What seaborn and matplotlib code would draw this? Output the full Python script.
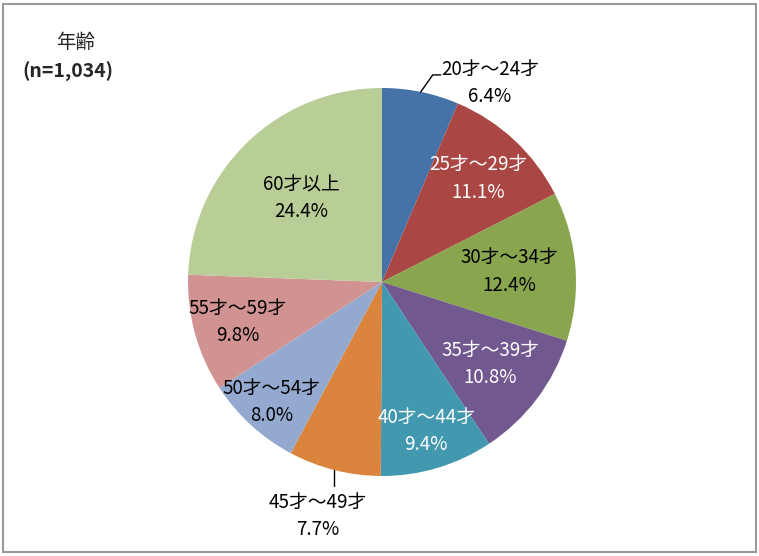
import numpy as np
import seaborn as sns
import matplotlib.pyplot as plt
from matplotlib.patches import Rectangle

# === data ===
age_groups = ["20才～24才", "25才～29才", "30才～34才", "35才～39才", "40才～44才",
              "45才～49才", "50才～54才", "55才～59才", "60才以上"]
shares = [6.4, 11.1, 12.4, 10.8, 9.4, 7.7, 8.0, 9.8, 24.4]
title_lines = ["年齢", "(n=1,034)"]

# === style ===
colors = ["#4572A7", "#AA4643", "#89A54E", "#71588F", "#4198AF",
          "#DB843D", "#93A9CF", "#D19392", "#B9CD96"]
text_colors = ["black", "white", "black", "white", "white",
               "black", "black", "black", "black"]
label_dist = [1.0, 0.73, 0.66, 0.70, 0.80, 1.0, 0.84, 0.77, 0.60]
# pixel offsets of outside labels from the wedge edge point (x right, y up)
outside_offset = {0: (69, 9), 5: (-17, -46)}

sns.set_theme(style="white")
plt.rcParams['font.family'] = ['Noto Sans CJK JP', 'DejaVu Sans']

W, H = 759, 556
cx, cy, R = 382, 282, 194  # pixel position of pie

fig = plt.figure(figsize=(W / 100, H / 100), dpi=100)
ax = fig.add_axes([0, 0, 1, 1])

wedges, _ = ax.pie(shares, colors=colors, startangle=90, counterclock=False,
                   wedgeprops=dict(linewidth=0))

for i, w in enumerate(wedges):
    mid = np.deg2rad((w.theta1 + w.theta2) / 2)
    d = label_dist[i]
    x, y = d * np.cos(mid), d * np.sin(mid)
    if i in outside_offset:
        ox, oy = outside_offset[i]
        x, y = x + ox / R, y + oy / R
    ax.text(x, y, f"{age_groups[i]}\n{shares[i]:.1f}%", ha="center", va="center",
            fontsize=13.5, color=text_colors[i], linespacing=1.4)

# leader lines for the outside labels
m0 = np.deg2rad((wedges[0].theta1 + wedges[0].theta2) / 2)
x0, y0 = np.cos(m0), np.sin(m0)
ax.plot([x0, x0 + 12 / R, x0 + 20 / R], [y0, y0 + 17 / R, y0 + 17 / R],
        color="black", lw=1)
m5 = np.deg2rad((wedges[5].theta1 + wedges[5].theta2) / 2)
x5, y5 = np.cos(m5), np.sin(m5)
ax.plot([x5, x5], [y5, y5 - 16 / R], color="black", lw=1)

ax.set_xlim(-cx / R, (W - cx) / R)
ax.set_ylim(-(H - cy) / R, cy / R)
ax.set_axis_off()

fig.text(76 / W, 1 - 42 / H, title_lines[0], ha="center", va="center",
         fontsize=14)
fig.text(68 / W, 1 - 72 / H, title_lines[1], ha="center", va="center",
         fontsize=14, fontweight="bold")

fig.patches.append(Rectangle((3 / W, 4 / H), 753 / W, 548 / H,
                             transform=fig.transFigure, fill=False,
                             edgecolor="#999999", lw=1.5))

fig.savefig("out.png", dpi=100)
